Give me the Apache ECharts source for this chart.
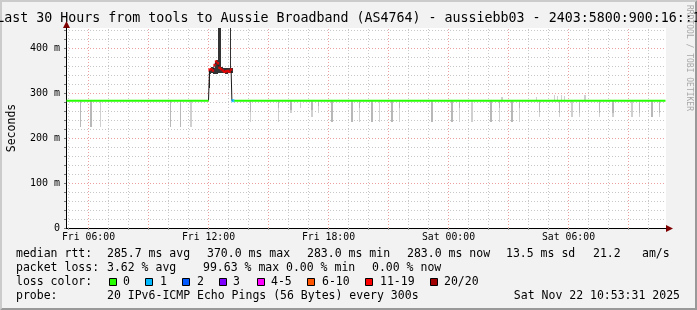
<!DOCTYPE html>
<html><head><meta charset="utf-8">
<script src="https://cdn.jsdelivr.net/npm/echarts@6/dist/echarts.min.js"></script>
<style>html,body{margin:0;padding:0;background:#f2f2f2}#c{width:697px;height:310px}</style>
</head><body><div id="c"></div>
<script>
// ---------------- data ----------------
const titleText = 'Last 30 Hours from tools to Aussie Broadband (AS4764) - aussiebb03 - 2403:5800:900:16::1';
const timeStart = 4.875, timeEnd = 34.875;           // hours since Fri 00:00
const stepHours = 1 / 12;                            // 300 s probe step
const xTickHours = [6, 12, 18, 24, 30];
const xTickLabels = ['Fri 06:00', 'Fri 12:00', 'Fri 18:00', 'Sat 00:00', 'Sat 06:00'];
const xGridHours = [5,6,7,8,9,10,11,12,13,14,15,16,17,18,19,20,21,22,23,24,25,26,27,28,29,30,31,32,33,34];
const xMajorHours = [6,9,12,15,18,21,24,27,30,33];
const yMax = 444.4;                                  // ms
const yTickValues = [0, 100, 200, 300, 400];
const yTickLabels = ['0', '100 m', '200 m', '300 m', '400 m'];

// median rtt (ms), loss 0 (green)
const greenT = [4.9, 12.0, 12.5, 13.28, 34.85];
const greenV = [283, 283, null, 283, 283];
// median rtt (ms), loss 11-19 (red)
const redT = [12.05, 12.13, 12.22, 12.30, 12.38, 12.47, 12.55, 12.63, 12.72, 12.80, 12.88, 12.97, 13.05, 13.13];
const redV = [352, 353, 350, 362, 370, 366, 356, 353, 350, 347, 348, 349, 347, 352];
// median rtt (ms), loss 1 (cyan)
const cyanT = [13.22];
const cyanV = [283];
// link of the median through the lossy period
const linkT = [12.0, 12.05, 12.13, 12.22, 12.30, 12.38, 12.47, 12.55, 12.63, 12.72, 12.80, 12.88, 12.97, 13.05, 13.13, 13.17, 13.22];
const linkV = [283, 352, 353, 350, 362, 370, 366, 356, 353, 350, 347, 348, 349, 347, 352, 283, 283];

// dark smoke during lossy period (ms)
const darkT    = [12.0, 12.05, 12.13, 12.22, 12.30, 12.38, 12.47, 12.55, 12.63, 12.72, 12.80, 12.88, 12.97, 13.05, 13.13];
const darkLow  = [310, 343, 344, 343, 342, 342, 345, 345, 344, 344, 343, 343, 344, 344, 344];
const darkHigh = [352, 356, 357, 356, 372, 373, 460, 460, 357, 356, 355, 356, 355, 460, 356];

// grey smoke below the median (ms): outer (light) and core (darker) extents
const smokeBase = 283;
const greyT    = [5.55, 6.07, 6.55, 10.05, 10.55, 11.07, 14.05, 15.45, 16.08, 16.55, 17.12, 17.45, 18.12, 19.12, 19.50, 20.12, 20.50, 21.12, 21.50, 23.12, 24.12, 24.50, 25.12, 26.08, 26.50, 27.12, 27.50, 28.50, 29.50, 30.12, 30.50, 31.50, 32.17, 33.12, 33.50, 34.12, 34.50];
const greyLow  = [225, 225, 225, 225, 225, 225, 236, 236, 255, 267, 247, 255, 236, 236, 236, 236, 236, 236, 236, 236, 236, 236, 236, 236, 236, 236, 236, 247, 247, 247, 247, 247, 247, 247, 247, 247, 247];
const greyCore = [225, 225, 283, 225, 225, 283, 258, 266, 262, 283, 262, 272, 236, 236, 267, 236, 283, 236, 267, 236, 236, 267, 283, 236, 267, 236, 267, 257, 256, 283, 256, 256, 256, 283, 256, 247, 256];
// grey smoke above the median (ms)
const bumpT    = [26.62, 28.35, 29.25, 29.40, 29.60, 29.75, 30.77];
const bumpHigh = [292, 292, 295, 293, 296, 293, 295];

// legend texts
const rttTexts  = ['median rtt:', '285.7 ms avg', '370.0 ms max', '283.0 ms min', '283.0 ms now', '13.5 ms sd', '21.2', 'am/s'];
const lossTexts = ['packet loss:', '3.62 % avg', '99.63 % max', '0.00 % min', '0.00 % now'];
const lossColorLabel = 'loss color:';
const lossLabels = ['0', '1', '2', '3', '4-5', '6-10', '11-19', '20/20'];
const lossColors = ['#26ff00', '#00b8ff', '#0059ff', '#7e00ff', '#ff00ff', '#ff5500', '#ff0000', '#a10000'];
const probeTexts = ['probe:', '20 IPv6-ICMP Echo Pings (56 Bytes) every 300s', 'Sat Nov 22 10:53:31 2025'];
const watermark = 'RRDTOOL / TOBI OETIKER';

// ---------------- chart ----------------
const MONO = "'DejaVu Sans Mono', monospace";
const GRID = 'rgba(143,143,143,0.5)';
const MGRID = 'rgba(222,80,80,0.55)';
const G = {left: 66, top: 28, width: 600, height: 200};

function rectRender(color) {
  return function (params, api) {
    const t = api.value(0), lo = api.value(1), hi = api.value(2);
    const p0 = api.coord([t, hi]);
    const p1 = api.coord([t + stepHours, lo]);
    const cs = params.coordSys;
    const x0 = Math.round(p0[0]);
    const x1 = Math.max(x0 + 1, Math.round(p1[0]));
    let y0 = Math.round(p0[1]);
    const y1 = Math.round(p1[1]);
    if (y0 < cs.y) y0 = cs.y;
    return {type: 'rect', shape: {x: x0, y: y0, width: x1 - x0, height: y1 - y0}, style: {fill: color}};
  };
}
function vGridRender(params, api) {
  const h = api.value(0);
  const a = api.coord([h, 0]), b = api.coord([h, yMax]);
  const major = xMajorHours.includes(h);
  return {type: 'line', shape: {x1: a[0], y1: a[1], x2: b[0], y2: b[1]},
    style: {stroke: major ? MGRID : GRID, lineWidth: 1, lineDash: [1, 2]}};
}

const lightData = greyT.map((t, i) => [t, greyLow[i], smokeBase]).concat(bumpT.map((t, i) => [t, smokeBase, bumpHigh[i]]));
const coreData = greyT.map((t, i) => [t, greyCore[i], smokeBase]).filter(d => d[1] < smokeBase);
const darkData = darkT.map((t, i) => [t, darkLow[i], darkHigh[i]]);

const graphics = [];
// plot canvas
graphics.push({type: 'rect', z: -10, shape: {x: G.left, y: G.top, width: G.width, height: G.height}, style: {fill: '#ffffff'}, silent: true});
// 3d border
graphics.push({type: 'polygon', shape: {points: [[0,310],[2,308],[2,2],[695,2],[697,0],[0,0]]}, style: {fill: '#cbcbcb'}, silent: true});
graphics.push({type: 'polygon', shape: {points: [[2,308],[695,308],[695,2],[697,0],[697,310],[0,310]]}, style: {fill: '#999999'}, silent: true});
// title
graphics.push({type: 'text', x: 348.5, y: 19, style: {text: titleText, font: '13.3px ' + MONO, fill: '#000', align: 'center', verticalAlign: 'middle'}, silent: true});
// watermark
graphics.push({type: 'text', x: 689, y: 58, rotation: -Math.PI / 2, style: {text: watermark, font: '8px ' + MONO, fill: '#a8a8a8', align: 'center', verticalAlign: 'middle'}, silent: true});
// axis arrows
graphics.push({type: 'line', shape: {x1: 66.5, y1: 28, x2: 66.5, y2: 25}, style: {stroke: '#000', lineWidth: 1}, silent: true});
graphics.push({type: 'polygon', shape: {points: [[63, 28], [66.5, 21], [70, 28]]}, style: {fill: '#7f0000'}, silent: true});
graphics.push({type: 'polygon', shape: {points: [[666, 225], [673, 228.5], [666, 232]]}, style: {fill: '#7f0000'}, silent: true});

const fontL = '11.5px ' + MONO;
function txt(x, y, s) {
  graphics.push({type: 'text', x: x, y: y, style: {text: s, font: fontL, fill: '#000', align: 'left', verticalAlign: 'middle'}, silent: true});
}
const rttX = [16, 107, 207, 307, 407, 506, 593, 642];
rttTexts.forEach((s, i) => txt(rttX[i], 254.5, s));
const lossX = [16, 107, 203, 286, 372];
lossTexts.forEach((s, i) => txt(lossX[i], 268.5, s));
txt(16, 282.5, lossColorLabel);
const boxX = [109, 145, 182, 219, 257, 307, 365, 430];
const boxLabelX = [123, 160, 197, 233, 271, 322, 380, 444];
lossColors.forEach((c, i) => {
  graphics.push({type: 'rect', shape: {x: boxX[i] + 0.5, y: 278.5, width: 7, height: 7}, style: {fill: c, stroke: '#000', lineWidth: 1}, silent: true});
  txt(boxLabelX[i], 282.5, lossLabels[i]);
});
txt(16, 296.5, probeTexts[0]);
txt(107, 296.5, probeTexts[1]);
graphics.push({type: 'text', x: 680, y: 296.5, style: {text: probeTexts[2], font: fontL, fill: '#000', align: 'right', verticalAlign: 'middle'}, silent: true});

const option = {
  animation: false,
  backgroundColor: '#f2f2f2',
  grid: {left: G.left, top: G.top, width: G.width, height: G.height, show: false, containLabel: false, outerBoundsMode: 'none'},
  xAxis: {
    type: 'value', min: timeStart, max: timeEnd,
    axisLine: {show: true, lineStyle: {color: '#000', width: 1}},
    axisTick: {show: true, customValues: xGridHours, length: 2, lineStyle: {color: '#999'}},
    axisLabel: {customValues: xTickHours, formatter: v => { const i = xTickHours.indexOf(v); return i >= 0 ? xTickLabels[i] : ''; },
      fontFamily: MONO, fontSize: 9.8, color: '#000', margin: 4},
    splitLine: {show: false}
  },
  yAxis: {
    type: 'value', min: 0, max: yMax, interval: 20,
    name: 'Seconds', nameLocation: 'middle', nameGap: 48, nameRotate: 90,
    nameTextStyle: {fontFamily: MONO, fontSize: 11.5, color: '#000'},
    axisLine: {show: true, lineStyle: {color: '#000', width: 1}},
    axisTick: {show: true, length: 2, lineStyle: {color: '#777'}},
    axisLabel: {formatter: v => { const i = yTickValues.indexOf(v); return i >= 0 ? yTickLabels[i] : ''; },
      fontFamily: MONO, fontSize: 10, color: '#000', margin: 6, showMaxLabel: false},
    splitLine: {show: true, showMaxLine: false, lineStyle: {color: [MGRID, GRID, GRID, GRID, GRID], type: [1, 2], width: 1}}
  },
  graphic: {elements: graphics},
  series: [
    {type: 'custom', z: 1, renderItem: vGridRender, data: xGridHours.map(h => [h]), silent: true, clip: false},
    {type: 'custom', z: 2, renderItem: rectRender('#d0d0d0'), data: lightData, silent: true},
    {type: 'custom', z: 3, renderItem: rectRender('#b8b8b8'), data: coreData, silent: true},
    {type: 'custom', z: 4, renderItem: rectRender('#333333'), data: darkData, silent: true},
    {type: 'line', z: 5, data: linkT.map((t, i) => [t, linkV[i]]), symbol: 'none', lineStyle: {color: '#1a1a1a', width: 1}, silent: true},
    {type: 'line', z: 6, data: greenT.map((t, i) => [t, greenV[i] === null ? '-' : greenV[i]]), symbol: 'none', connectNulls: false, lineStyle: {color: lossColors[0], width: 2}, silent: true},
    {type: 'scatter', z: 7, data: redT.map((t, i) => [t, redV[i]]), symbol: 'rect', symbolSize: 2.5, itemStyle: {color: lossColors[6]}, silent: true},
    {type: 'scatter', z: 7, data: cyanT.map((t, i) => [t, cyanV[i]]), symbol: 'rect', symbolSize: 3, itemStyle: {color: lossColors[1]}, silent: true}
  ]
};
const chart = echarts.init(document.getElementById('c'));
chart.setOption(option);
</script>
</body></html>
